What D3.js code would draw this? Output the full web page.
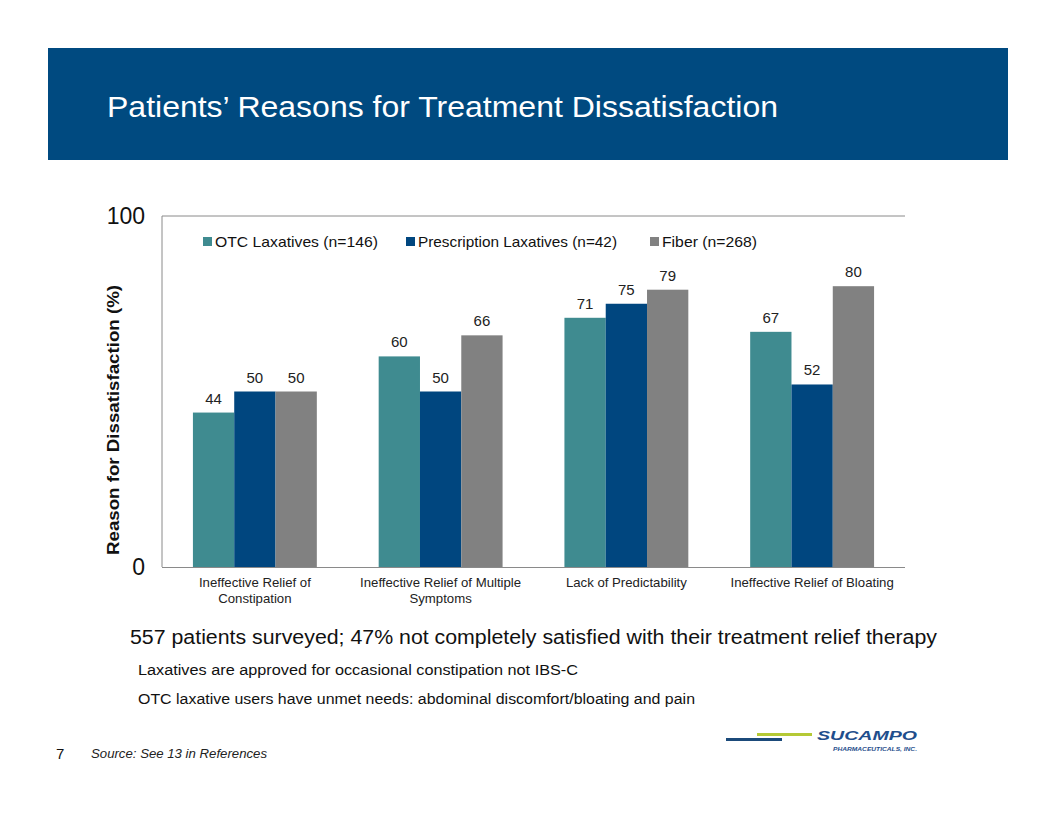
<!DOCTYPE html>
<html><head><meta charset="utf-8">
<script src="https://cdn.jsdelivr.net/npm/d3@7"></script>
<style>body{margin:0;background:#fff;}svg{display:block;font-family:Arial,"Liberation Sans",sans-serif;}</style>
</head><body>
<svg id="c" width="1056" height="816"></svg>
<script>
const categories = [["Ineffective Relief of","Constipation"],["Ineffective Relief of Multiple","Symptoms"],["Lack of Predictability"],["Ineffective Relief of Bloating"]];
const seriesNames = ["OTC Laxatives (n=146)","Prescription Laxatives (n=42)","Fiber (n=268)"];
const otcValues = [44, 60, 71, 67];
const rxValues = [50, 50, 75, 52];
const fiberValues = [50, 66, 79, 80];
const yTicks = [0, 100];
const seriesColors = ["#3F8B90", "#00467F", "#818181"];

const svg = d3.select("#c");

function txt(x, yy, s, size, opts={}) {
  const t = svg.append("text").attr("x",x).attr("y",yy).attr("font-size",size).attr("fill",opts.fill||"#111").text(s);
  if (opts.anchor) t.attr("text-anchor",opts.anchor);
  if (opts.weight) t.attr("font-weight",opts.weight);
  if (opts.style) t.attr("font-style",opts.style);
  if (opts.len) t.attr("textLength",opts.len).attr("lengthAdjust","spacingAndGlyphs");
  return t;
}

// header band
svg.append("rect").attr("x",48).attr("y",48).attr("width",960).attr("height",112).attr("fill","#004A80");
txt(107,117,"Patients\u2019 Reasons for Treatment Dissatisfaction",29,{fill:"#fff",len:671});

const L=162, R=905, T=216, B=567;
const x0 = d3.scaleBand().domain(d3.range(categories.length)).range([L,R]).paddingInner(0.333).paddingOuter(0.1665);
const x1 = d3.scaleBand().domain(d3.range(3)).range([0,x0.bandwidth()]);
const y = d3.scaleLinear().domain([0,100]).range([B,T]);

svg.append("line").attr("x1",L).attr("x2",R).attr("y1",y(100)).attr("y2",y(100)).attr("stroke","#8a8a8a").attr("stroke-width",1);
svg.append("line").attr("x1",L).attr("x2",L).attr("y1",T).attr("y2",B).attr("stroke","#8a8a8a").attr("stroke-width",1);

const series = [otcValues, rxValues, fiberValues];
series.forEach((vals,s)=>{
  vals.forEach((v,i)=>{
    const bx = x0(i)+x1(s);
    svg.append("rect").attr("x",bx).attr("y",y(v)).attr("width",x1.bandwidth()).attr("height",y(0)-y(v)).attr("fill",seriesColors[s]);
    txt(bx+x1.bandwidth()/2, y(v)-9, v, 15, {anchor:"middle", fill:"#222"});
  });
});
svg.append("line").attr("x1",L).attr("x2",R).attr("y1",B+0.5).attr("y2",B+0.5).attr("stroke","#8a8a8a").attr("stroke-width",1);

yTicks.forEach(t=>{
  txt(145, y(t)+8, t, 23, {anchor:"end"});
});
svg.append("text").attr("transform","translate(119,420) rotate(-90)").attr("text-anchor","middle")
  .attr("font-size",17).attr("font-weight","bold").attr("fill","#111")
  .attr("textLength",270).attr("lengthAdjust","spacingAndGlyphs").text("Reason for Dissatisfaction (%)");

categories.forEach((lines,i)=>{
  const cx = x0(i)+x0.bandwidth()/2;
  lines.forEach((ln,k)=>{
    txt(cx, 587+k*16, ln, 13.2, {anchor:"middle", fill:"#222"});
  });
});

const legX = [203, 406, 650];
const legLen = [163, 199, 95];
seriesNames.forEach((n,s)=>{
  svg.append("rect").attr("x",legX[s]).attr("y",237).attr("width",9).attr("height",9).attr("fill",seriesColors[s]);
  txt(legX[s]+12, 246.5, n, 15, {len:legLen[s]});
});

txt(130,644,"557 patients surveyed; 47% not completely satisfied with their treatment relief therapy",20,{len:807});
txt(138,675,"Laxatives are approved for occasional constipation not IBS-C",15.5,{len:440});
txt(138,704,"OTC laxative users have unmet needs: abdominal discomfort/bloating and pain",15.5,{len:557});

txt(56,759,"7",15);
txt(91,758,"Source: See 13 in References",13,{style:"italic",fill:"#222",len:176});

// logo
svg.append("line").attr("x1",726).attr("x2",782).attr("y1",739.5).attr("y2",739.5).attr("stroke","#1B4A7A").attr("stroke-width",3);
svg.append("line").attr("x1",757).attr("x2",812).attr("y1",734.5).attr("y2",734.5).attr("stroke","#B5C935").attr("stroke-width",3);
txt(817,740,"SUCAMPO",13.5,{weight:"bold",style:"italic",fill:"#1F4E8C",len:100});
txt(833,751,"PHARMACEUTICALS, INC.",6,{weight:"bold",style:"italic",fill:"#1F4E8C",len:84});
</script>
</body></html>
